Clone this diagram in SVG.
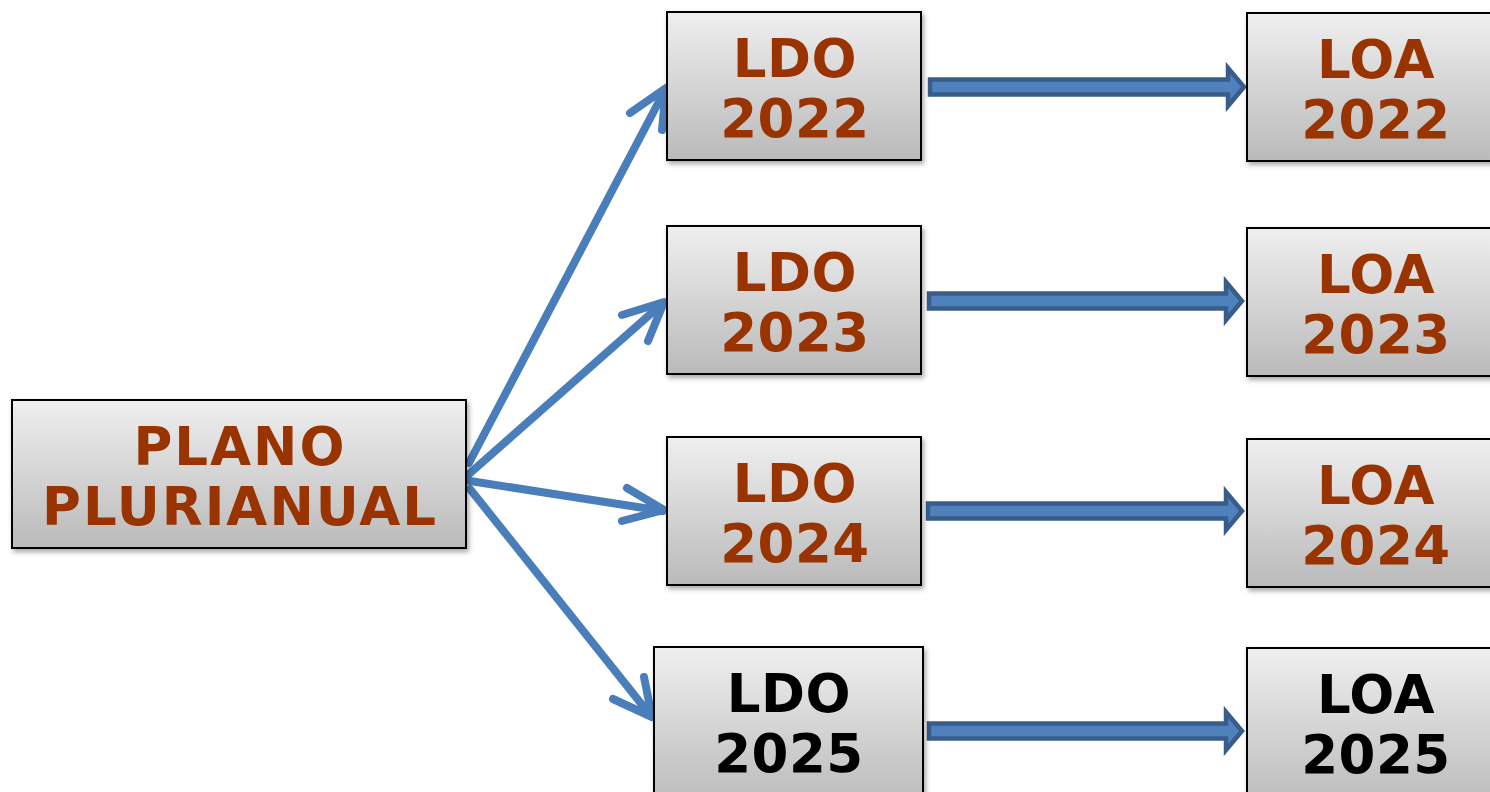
<svg xmlns="http://www.w3.org/2000/svg" width="1490" height="792" viewBox="0 0 1490 792">
<defs>
<linearGradient id="g" x1="0" y1="0" x2="0" y2="1">
<stop offset="0" stop-color="#efefef"/>
<stop offset="1" stop-color="#bababa"/>
</linearGradient>
<filter id="sh" x="-10%" y="-10%" width="120%" height="130%">
<feDropShadow dx="2" dy="3" stdDeviation="2.5" flood-color="#000" flood-opacity="0.35"/>
</filter>
</defs>
<style>
.box{fill:url(#g);stroke:#000;stroke-width:2;filter:url(#sh)}
.t{font-family:"DejaVu Sans","Verdana",sans-serif;font-weight:bold;font-size:53px;text-anchor:middle;fill:#993300;letter-spacing:0.5px}
.w{letter-spacing:2px}
.k{fill:#000}
.ln{fill:none;stroke:#4a7ebb;stroke-width:8;stroke-linecap:round;stroke-linejoin:round}
.blk{fill:#4f81bd;stroke:#385d8a;stroke-width:4.5;stroke-linejoin:miter}
</style>
<rect width="1490" height="792" fill="#fff"/>
<g id="connectors">
<path class="ln" d="M469,463 L665,90 M630,113 L666,88 L662,130"/>
<path class="ln" d="M469,474 L663,303 M622,315 L664,302 L648,341"/>
<path class="ln" d="M470,481 L663,511 M627,488 L664,510 L622,521"/>
<path class="ln" d="M470,489 L651,716 M613,699 L652,717 L644,677"/>
<path class="blk" d="M930,79.5 H1228 V68 L1244,87 L1228,106 V94.5 H930 Z"/>
<path class="blk" d="M929,293.5 H1226 V282 L1242,301 L1226,320 V308.5 H929 Z"/>
<path class="blk" d="M928,503.5 H1226 V492 L1242,511 L1226,530 V518.5 H928 Z"/>
<path class="blk" d="M929,723.5 H1226 V712 L1242,731 L1226,750 V738.5 H929 Z"/>
</g>
<g id="ppa">
<rect class="box" x="12" y="400" width="454" height="148"/>
<text class="t w" x="240" y="465">PLANO</text>
<text class="t w" x="240" y="525">PLURIANUAL</text>
</g>
<g id="ldo2022">
<rect class="box" x="667" y="12" width="254" height="148"/>
<text class="t" x="795" y="77">LDO</text>
<text class="t" x="795" y="137">2022</text>
</g>
<g id="ldo2023">
<rect class="box" x="667" y="226" width="254" height="148"/>
<text class="t" x="795" y="291">LDO</text>
<text class="t" x="795" y="351">2023</text>
</g>
<g id="ldo2024">
<rect class="box" x="667" y="437" width="254" height="148"/>
<text class="t" x="795" y="502">LDO</text>
<text class="t" x="795" y="562">2024</text>
</g>
<g id="ldo2025">
<rect class="box" x="654" y="647" width="269" height="160"/>
<text class="t k" x="789" y="712">LDO</text>
<text class="t k" x="789" y="772">2025</text>
</g>
<g id="loa2022">
<rect class="box" x="1247" y="13" width="260" height="148"/>
<text class="t" x="1376" y="78">LOA</text>
<text class="t" x="1376" y="138">2022</text>
</g>
<g id="loa2023">
<rect class="box" x="1247" y="228" width="260" height="148"/>
<text class="t" x="1376" y="293">LOA</text>
<text class="t" x="1376" y="353">2023</text>
</g>
<g id="loa2024">
<rect class="box" x="1247" y="439" width="260" height="148"/>
<text class="t" x="1376" y="504">LOA</text>
<text class="t" x="1376" y="564">2024</text>
</g>
<g id="loa2025">
<rect class="box" x="1247" y="648" width="260" height="160"/>
<text class="t k" x="1376" y="713">LOA</text>
<text class="t k" x="1376" y="773">2025</text>
</g>
</svg>
